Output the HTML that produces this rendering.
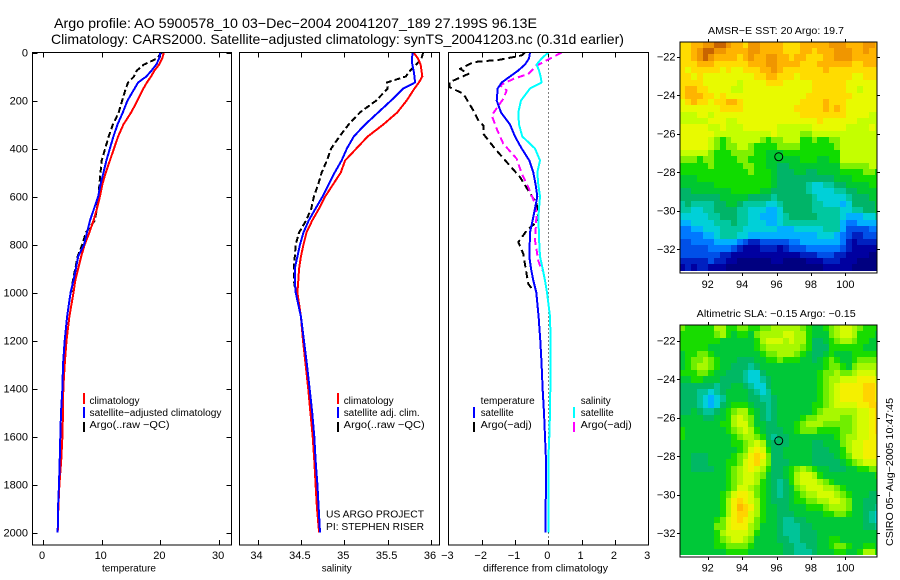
<!DOCTYPE html>
<html lang="en">
<head>
<meta charset="utf-8">
<title>Argo profile 5900578_10</title>
<style>
html,body{margin:0;padding:0;background:#fff;}
svg{display:block;}
text{font-family:"Liberation Sans",Arial,sans-serif;fill:#000;}
.lg{font-size:10px;}
.ttl{font-size:14px;}
</style>
</head>
<body>
<svg id="chart" xmlns="http://www.w3.org/2000/svg" width="900" height="580" viewBox="0 0 900 580">
  <rect x="0" y="0" width="900" height="580" fill="#fff"/>
  <defs>
    <clipPath id="clip-sst"><rect x="680" y="42" width="197" height="231"/></clipPath>
    <clipPath id="clip-sla"><rect x="680" y="325" width="197" height="232"/></clipPath>
    <clipPath id="clip-temp"><rect x="32" y="52" width="200" height="493"/></clipPath>
    <clipPath id="clip-sal"><rect x="239" y="52" width="201" height="493"/></clipPath>
    <clipPath id="clip-diff"><rect x="448" y="52" width="201" height="493"/></clipPath>
  </defs>

  <text class="ttl" x="54" y="28" textLength="483" lengthAdjust="spacingAndGlyphs">Argo profile: AO 5900578_10 03−Dec−2004 20041207_189 27.199S 96.13E</text>
  <text class="ttl" x="51" y="44" textLength="573" lengthAdjust="spacingAndGlyphs">Climatology: CARS2000. Satellite−adjusted climatology: synTS_20041203.nc (0.31d earlier)</text>

  <g id="layer-maps"></g>
  <g id="layer-lines"></g>

  <g>
    <rect x="83" y="393" width="2" height="11" fill="#f00"/>
    <rect x="83" y="407" width="2" height="11" fill="#00f"/>
    <rect x="83" y="422" width="2" height="10" fill="#000"/>
    <text class="lg" x="89.5" y="404" textLength="50" lengthAdjust="spacingAndGlyphs">climatology</text>
    <text class="lg" x="89.5" y="416" textLength="132" lengthAdjust="spacingAndGlyphs">satellite−adjusted climatology</text>
    <text class="lg" x="89.5" y="428" textLength="80" lengthAdjust="spacingAndGlyphs">Argo(..raw −QC)</text>
  </g>
  <g>
    <rect x="337" y="393" width="2" height="11" fill="#f00"/>
    <rect x="337" y="407" width="2" height="11" fill="#00f"/>
    <rect x="337" y="422" width="2" height="10" fill="#000"/>
    <text class="lg" x="343.7" y="404" textLength="50" lengthAdjust="spacingAndGlyphs">climatology</text>
    <text class="lg" x="343.7" y="416" textLength="76" lengthAdjust="spacingAndGlyphs">satellite adj. clim.</text>
    <text class="lg" x="343.7" y="428" textLength="81" lengthAdjust="spacingAndGlyphs">Argo(..raw −QC)</text>
    <text class="lg" x="326" y="517.5" textLength="98" lengthAdjust="spacingAndGlyphs">US ARGO PROJECT</text>
    <text class="lg" x="326" y="530" textLength="98" lengthAdjust="spacingAndGlyphs">PI: STEPHEN RISER</text>
  </g>
  <g>
    <text class="lg" x="480.7" y="404" textLength="54" lengthAdjust="spacingAndGlyphs">temperature</text>
    <rect x="473" y="407" width="2" height="11" fill="#00f"/>
    <rect x="473" y="422" width="2" height="10" fill="#000"/>
    <text class="lg" x="480.7" y="416" textLength="33" lengthAdjust="spacingAndGlyphs">satellite</text>
    <text class="lg" x="480.7" y="428" textLength="51" lengthAdjust="spacingAndGlyphs">Argo(−adj)</text>
    <text class="lg" x="580.7" y="404" textLength="30" lengthAdjust="spacingAndGlyphs">salinity</text>
    <rect x="573" y="407" width="2" height="11" fill="#0ff"/>
    <rect x="573" y="422" width="2" height="10" fill="#f0f"/>
    <text class="lg" x="580.7" y="416" textLength="33" lengthAdjust="spacingAndGlyphs">satellite</text>
    <text class="lg" x="580.7" y="428" textLength="51" lengthAdjust="spacingAndGlyphs">Argo(−adj)</text>
  </g>

  <text class="lg" x="708" y="34" textLength="136" lengthAdjust="spacingAndGlyphs">AMSR−E SST: 20 Argo: 19.7</text>
  <text class="lg" x="696.7" y="317" textLength="159" lengthAdjust="spacingAndGlyphs">Altimetric SLA: −0.15 Argo: −0.15</text>
  <text class="lg" transform="translate(893,546) rotate(-90)" x="0" y="0" textLength="148" lengthAdjust="spacingAndGlyphs">CSIRO 05−Aug−2005 10:47:45</text>
</svg>

<script>
/* ---------- profile data ---------- */
const depths = [0,25,50,75,100,125,150,200,250,300,350,400,450,500,550,600,650,700,750,800,850,900,950,1000,1100,1200,1300,1400,1500,1600,1700,1800,1900,2000];

const tempClim = [20.6,20.3,19.8,19.0,18.4,17.7,17.1,16.1,15.0,13.7,12.8,12.1,11.4,10.7,10.1,9.7,9.2,8.6,7.9,7.1,6.5,6.0,5.5,5.2,4.5,4.0,3.7,3.45,3.4,3.3,3.1,2.8,2.6,2.5];
const tempSat = [20.0,19.8,19.3,18.5,17.6,16.2,15.6,14.4,13.6,12.7,12.0,11.4,10.8,10.3,9.8,9.4,8.7,8.0,7.5,7.0,6.0,5.6,5.2,4.7,4.1,3.7,3.4,3.3,3.07,2.95,2.84,2.73,2.55,2.5];
const tempArgo = [20.2,19.4,17.2,16.0,15.5,14.5,14.1,13.5,12.9,11.9,11.2,10.6,10.0,9.8,9.6,9.45,9.2,8.8,7.3,6.7,5.9,5.5,5.1,4.8];

const salClim = [35.80,35.85,35.88,35.89,35.90,35.86,35.81,35.72,35.61,35.45,35.27,35.14,35.01,34.96,34.87,34.78,34.71,34.63,34.565,34.53,34.50,34.48,34.47,34.46,34.50,34.525,34.555,34.585,34.61,34.636,34.655,34.67,34.686,34.71];
const salSat = [35.79,35.78,35.785,35.80,35.81,35.815,35.68,35.54,35.39,35.24,35.11,35.03,34.97,34.89,34.82,34.75,34.67,34.59,34.53,34.49,34.46,34.43,34.43,34.44,34.50,34.535,34.57,34.60,34.63,34.655,34.67,34.69,34.705,34.72];
const salArgo = [35.91,35.89,35.83,35.76,35.71,35.49,35.50,35.37,35.18,35.05,34.945,34.85,34.80,34.74,34.70,34.65,34.62,34.56,34.48,34.44,34.43,34.42,34.42,34.44];

const diffTempSat = [-0.55,-0.58,-0.7,-0.9,-1.15,-1.4,-1.52,-1.55,-1.42,-1.15,-1.0,-0.8,-0.57,-0.45,-0.38,-0.33,-0.4,-0.47,-0.55,-0.56,-0.57,-0.52,-0.45,-0.36,-0.29,-0.24,-0.2,-0.17,-0.13,-0.1,-0.07,-0.07,-0.08,-0.08];
const diffSalSat = [0.0,-0.2,-0.35,-0.28,-0.23,-0.2,-0.55,-0.82,-0.9,-0.88,-0.78,-0.4,-0.25,-0.33,-0.3,-0.25,-0.28,-0.3,-0.28,-0.27,-0.25,-0.17,-0.1,-0.04,0.05,0.07,0.07,0.06,0.05,0.03,0.0,0.0,0.0,0.0];

const diffTempArgoDepths = [0,12,30,40,68,89,124,144,172,242,283,304,339,401,464,519,575,630,700,742,790,839,908,964,992];
const diffTempArgo = [-0.7,-0.8,-1.45,-2.25,-2.65,-2.4,-2.97,-2.97,-2.55,-2.25,-2.1,-1.95,-1.95,-1.6,-1.2,-0.85,-0.6,-0.35,-0.3,-0.65,-0.9,-0.75,-0.67,-0.6,-0.45];

const diffSalArgoDepths = [0,26,54,89,110,137,158,193,262,325,380,443,505,561,630,672,783,867,908];
const diffSalArgo = [0.4,0.05,-0.35,-0.6,-1.05,-1.45,-1.25,-1.35,-1.7,-1.53,-1.35,-0.95,-0.8,-0.6,-0.4,-0.35,-0.4,-0.3,-0.2];

/* ---------- tick labels ---------- */
const depthTicks = [0,200,400,600,800,1000,1200,1400,1600,1800,2000];
const tempTicks = [0,10,20,30];
const salTicks = [34,34.5,35,35.5,36];
const diffTicks = [-3,-2,-1,0,1,2,3];
const lonTicks = [92,94,96,98,100];
const latTicks = [-22,-24,-26,-28,-30,-32];
const floatLon = [96.13];
const floatLat = [-27.199];

/* ---------- map levels (rows north to south, columns west to east) ---------- */
const sstLevels = [
[14,14,15,15,16,16,17,17,16,15,15,14,16,16,15,15,15,15,14,14,14,15,15,15,15,15,16,16,16,15,15,15,16,16,15],
[14,14,15,16,17,17,16,16,15,15,15,15,16,16,15,15,15,15,14,14,14,15,15,14,15,15,15,16,16,16,15,15,16,15,15],
[14,14,15,16,17,16,15,15,15,15,14,15,16,15,15,16,16,15,15,14,15,15,14,14,14,15,15,16,16,16,15,15,15,15,15],
[14,14,14,15,15,15,14,14,14,14,14,14,15,15,15,16,16,15,15,15,15,14,14,14,15,15,15,15,15,15,14,14,15,15,15],
[14,13,14,14,14,14,14,13,14,13,13,14,14,14,15,15,16,15,14,14,14,14,14,14,14,15,14,14,14,14,14,14,14,14,14],
[14,14,13,14,13,13,13,13,13,13,13,13,13,14,14,15,15,14,14,14,13,14,14,14,14,14,14,14,14,14,13,13,14,14,14],
[14,14,14,14,13,13,13,13,13,13,12,13,13,13,13,14,14,14,13,13,13,13,13,14,14,14,14,14,14,13,13,13,13,13,13],
[14,15,15,14,14,13,13,13,13,12,12,13,13,13,13,13,13,13,13,13,13,13,13,14,14,14,14,14,14,13,13,12,13,13,13],
[14,15,15,15,14,14,13,14,13,13,13,13,13,13,13,13,13,13,13,13,13,13,14,14,14,14,14,14,14,14,13,13,13,13,13],
[13,14,15,14,14,13,14,14,15,15,14,13,13,13,13,13,13,13,13,13,13,14,14,14,14,15,14,14,14,13,13,13,13,13,13],
[13,13,13,13,13,13,13,14,14,14,14,13,13,13,13,13,13,13,13,13,14,14,14,14,14,15,14,15,14,13,13,13,13,13,13],
[12,12,12,13,13,12,13,13,13,13,13,13,13,13,13,13,13,13,13,13,13,14,14,14,14,14,14,14,14,13,13,13,13,12,12],
[12,12,12,12,12,13,13,13,12,12,13,13,13,13,13,13,13,13,13,13,13,13,13,13,14,13,13,13,13,13,13,12,12,12,12],
[13,13,13,13,13,12,12,13,12,12,12,13,13,13,13,13,13,12,12,12,12,12,12,13,13,13,13,13,13,12,12,12,12,13,12],
[13,13,13,13,13,13,12,12,12,12,12,12,12,12,12,12,13,12,12,12,12,11,11,12,12,12,12,12,12,12,12,12,12,12,12],
[13,13,13,13,13,12,11,10,11,12,12,12,12,12,11,10,11,11,12,12,12,10,10,11,10,10,11,11,12,12,12,12,12,12,12],
[13,13,13,13,13,12,11,10,11,11,12,12,11,10,10,10,10,11,11,11,11,10,10,10,10,10,10,11,12,12,12,12,12,12,12],
[12,12,12,12,12,11,10,10,10,11,11,11,11,10,10,9,9,9,10,10,10,10,10,10,10,10,10,10,12,12,12,12,12,12,12],
[11,11,11,10,11,11,10,10,10,10,11,11,10,10,10,9,9,9,9,9,9,10,10,10,9,9,10,10,12,12,12,12,12,12,12],
[10,10,10,10,10,11,10,10,10,10,10,11,11,10,10,9,9,8,8,9,9,9,9,9,9,9,9,9,11,11,11,11,11,12,12],
[10,10,10,10,10,10,10,10,10,10,10,10,11,10,10,10,9,8,8,8,9,9,8,8,9,9,9,9,10,10,10,10,11,11,10],
[9,9,9,10,10,10,10,10,10,10,10,10,10,10,10,10,9,8,8,8,8,8,8,8,8,8,8,9,9,9,10,10,10,10,10],
[9,9,9,9,9,9,10,10,10,10,10,10,10,10,10,10,9,8,8,8,8,8,7,6,6,7,7,8,8,9,9,9,9,10,10],
[8,8,9,9,9,9,9,9,9,10,10,10,10,10,9,9,8,8,8,8,8,8,7,6,6,6,6,7,7,8,8,9,9,9,9],
[8,8,8,8,8,8,8,9,9,9,9,9,8,8,8,8,7,8,8,8,8,8,8,7,6,6,6,6,6,7,8,8,8,9,9],
[7,8,7,7,7,7,8,8,9,9,8,7,7,7,7,6,6,7,8,8,8,8,8,7,7,6,6,6,5,6,8,8,8,8,9],
[7,7,6,6,7,7,8,8,8,8,7,7,6,6,6,5,5,6,8,8,8,8,8,7,7,7,7,7,6,6,7,7,8,8,9],
[6,6,6,6,6,7,7,8,8,8,7,7,6,6,5,5,5,6,7,8,8,8,8,8,7,7,7,7,6,5,5,5,6,6,7],
[5,5,6,6,6,6,7,7,7,8,7,7,6,6,6,5,5,6,7,7,7,7,7,7,7,7,7,7,5,4,4,5,5,5,5],
[4,4,5,5,6,6,6,7,7,7,7,6,6,6,6,6,6,5,5,5,6,6,6,6,6,7,7,7,5,3,3,3,3,4,4],
[4,4,4,4,5,5,6,7,7,7,6,6,5,5,5,5,5,5,5,5,5,5,5,5,6,6,6,5,4,3,2,2,3,3,3],
[3,3,4,4,4,4,5,5,5,5,4,3,2,2,3,3,3,3,3,4,4,5,5,5,5,5,5,5,4,2,1,2,2,2,2],
[3,3,3,3,3,4,4,4,4,3,2,1,1,1,2,2,2,1,2,3,3,3,4,4,4,4,4,4,3,2,1,1,1,1,1],
[3,3,3,3,3,3,3,2,2,1,1,1,1,1,1,1,1,1,1,1,1,2,2,2,3,3,3,2,2,1,1,1,1,0,0],
[2,2,2,2,2,3,2,2,1,1,0,0,0,0,0,0,1,1,0,0,0,0,1,1,1,2,2,2,1,1,1,0,0,0,0],
[1,2,1,2,2,1,1,1,0,0,0,0,0,0,0,0,0,0,0,0,0,0,0,0,0,1,1,1,1,1,0,0,0,0,0]
];

const slaLevels = [
[11,10,10,10,10,10,12,12,10,10,11,11,10,10,11,11,12,12,12,12,12,11,10,9,9,10,11,12,13,13,12,11,10,10,10],
[10,10,10,10,10,10,11,12,10,9,10,10,9,11,12,12,12,12,13,13,12,12,10,9,9,9,11,12,13,13,12,10,10,10,9],
[10,10,10,10,10,10,10,9,9,9,9,9,9,10,12,13,13,13,12,13,12,12,10,8,8,9,10,11,12,12,11,10,10,9,9],
[10,10,10,10,10,9,9,9,9,9,9,9,9,10,11,12,12,12,12,12,12,11,10,8,8,8,10,10,10,10,10,10,9,9,9],
[9,10,10,11,11,10,9,9,9,9,9,9,9,9,10,11,11,12,12,12,11,10,9,8,8,9,10,9,9,9,10,10,10,10,10],
[9,10,11,11,12,11,10,9,9,9,8,8,8,9,9,10,10,11,10,10,10,9,9,8,9,10,11,10,9,9,10,11,11,11,11],
[9,10,11,12,12,11,10,9,9,8,8,8,7,8,9,9,9,9,9,9,9,9,9,9,9,10,11,11,10,9,11,12,12,12,12],
[10,10,10,11,11,10,9,9,8,8,8,7,6,6,8,9,9,9,9,9,9,9,9,9,10,11,11,12,11,11,12,13,13,13,12],
[9,9,10,10,9,9,9,8,8,8,8,7,6,6,7,8,9,9,9,9,9,9,9,9,10,11,12,12,13,13,13,14,14,14,13],
[8,8,8,8,8,8,7,8,8,9,9,8,7,6,6,8,9,9,9,9,9,9,9,9,10,11,12,13,14,14,14,14,15,15,14],
[8,8,8,7,7,6,7,8,9,9,9,9,8,7,6,7,9,9,9,9,9,9,9,9,10,11,12,13,14,14,14,14,15,15,14],
[8,8,8,7,6,5,6,7,9,9,9,9,8,8,7,7,8,9,9,9,9,9,9,9,10,11,12,13,14,14,14,14,15,15,14],
[8,8,8,7,6,5,6,8,9,10,10,10,9,8,8,7,8,9,9,9,9,9,9,10,10,11,12,13,13,13,13,14,14,15,15],
[8,8,9,8,7,7,8,9,10,11,12,12,10,9,8,7,8,9,9,9,9,9,9,10,11,12,12,12,12,12,12,13,13,14,15],
[9,9,9,9,8,8,9,9,10,12,13,12,11,9,8,7,8,9,9,9,9,10,11,11,12,12,12,12,11,11,12,13,13,14,15],
[9,9,9,9,9,9,9,10,10,12,13,13,11,9,9,8,8,9,9,9,10,11,12,12,12,11,11,11,11,11,12,13,13,14,15],
[10,9,9,9,9,9,9,9,10,11,12,13,12,10,9,8,8,8,9,9,10,11,11,11,10,10,10,10,11,11,12,13,13,14,15],
[10,9,9,9,9,9,9,9,9,10,11,12,12,11,10,8,7,8,8,9,9,9,9,9,9,9,9,10,11,12,12,13,13,14,14],
[9,9,9,9,9,9,9,9,9,10,10,11,12,13,12,9,8,8,8,9,9,9,9,8,8,9,9,9,11,12,13,13,14,14,14],
[9,9,9,9,9,9,9,9,9,9,10,11,13,14,13,10,8,8,9,9,9,9,9,8,8,8,9,9,10,12,13,13,14,14,14],
[9,9,8,8,8,9,9,9,9,10,11,12,14,15,14,11,8,8,9,9,9,9,9,8,8,8,8,9,10,11,13,13,14,14,14],
[9,9,8,8,8,9,9,9,10,10,11,13,14,15,13,11,8,8,8,9,9,9,9,8,8,8,8,8,9,10,11,12,13,13,13],
[9,9,8,8,8,8,9,9,10,11,12,13,14,13,12,10,8,8,9,10,11,12,11,10,9,9,8,8,8,9,9,10,10,11,11],
[9,9,9,9,9,9,9,9,10,11,12,13,13,12,11,9,8,8,9,10,12,13,13,12,10,9,9,9,9,9,9,9,9,9,10],
[9,9,9,9,9,9,9,9,10,11,12,13,13,12,10,9,8,7,8,10,12,13,13,13,12,11,10,9,9,9,9,9,9,9,9],
[9,9,9,9,9,9,9,9,10,11,13,13,12,11,10,9,8,7,8,9,11,12,13,13,13,12,12,11,10,9,9,9,9,9,9],
[9,9,9,9,9,9,9,10,11,13,14,14,13,11,10,9,8,7,8,9,10,11,12,12,13,13,13,12,11,10,9,9,9,8,8],
[9,9,9,9,9,9,9,10,12,14,15,14,13,12,10,9,8,8,8,9,10,10,11,11,12,12,13,13,12,11,9,9,8,8,8],
[9,9,9,9,9,9,9,10,12,14,16,15,14,12,10,9,9,8,8,9,9,9,10,10,10,11,12,12,12,11,9,9,8,8,7],
[9,9,9,9,9,9,9,10,12,14,15,15,13,12,10,9,9,8,8,8,9,9,9,9,9,10,10,11,11,10,9,9,8,7,6],
[9,9,9,9,9,9,10,11,13,14,15,14,13,11,10,9,9,8,7,7,8,8,9,9,9,9,9,9,9,9,9,9,8,7,6],
[9,9,9,9,9,9,11,11,13,14,14,14,12,11,9,9,9,8,7,7,7,8,8,9,9,9,9,9,9,9,9,9,8,8,7],
[9,9,9,9,9,9,10,12,13,13,13,13,12,10,9,9,9,8,7,7,7,8,8,8,9,9,9,9,9,9,9,9,9,9,9],
[9,9,9,9,9,9,10,11,12,13,13,12,11,9,9,9,9,8,8,7,7,8,8,8,9,9,10,10,9,9,9,9,9,9,9],
[9,9,9,9,9,9,10,10,11,11,11,11,10,9,9,9,9,9,8,8,7,7,8,8,9,9,10,11,11,10,9,9,10,10,9],
[9,9,9,9,9,9,9,9,10,10,10,10,9,9,9,9,9,9,8,8,7,7,7,8,9,9,9,10,10,9,9,10,12,12,10]
];

/* ---------- colour ramps for map levels ---------- */
const sstRamp = ['#000080','#0000a0','#0020c0','#0050e8','#0078ff','#00b0ff','#00d0d8','#00c8a0','#00b468','#00c830','#10dc00','#80f000','#c4ff00','#e8fa00','#ffdc00','#ffb400','#f09600','#c86400'];
const slaRamp = ['#000080','#0000a0','#0020c0','#0050e8','#0078ff','#00b0ff','#00d0d8','#00c498','#00b864','#00c838','#18dc00','#70ee00','#a8f800','#d4fc00','#f4f000','#ffd400','#ffb800','#f09600'];

/* ---------- axis functions ---------- */
const SVGNS = 'http://www.w3.org/2000/svg';
const yDepth = d => 52.5 + d * 0.24;
const xTemp = v => 43 + v * 5.87;
const xSal = v => 257.5 + (v - 34) * 86.75;
const xDiff = v => 548.3 + v * 33.3;
const xLon = v => 707.7 + (v - 92) * 17.2;
const ySst = v => 56.7 + (-22 - v) * 19.25;
const ySla = v => 340.7 + (-22 - v) * 19.25;

const lines = document.getElementById('layer-lines');
const maps = document.getElementById('layer-maps');

function make(tag, parent, attrs) {
  const el = document.createElementNS(SVGNS, tag);
  for (const k in attrs) el.setAttribute(k, attrs[k]);
  parent.appendChild(el);
  return el;
}

function label(parent, x, y, str, anchor, name, size) {
  const el = make('text', parent, {x: x, y: y, 'text-anchor': anchor, 'font-size': size || 11});
  el.textContent = str;
  
  
  return el;
}

function series(parent, xs, ds, xFn, color, dash, name, clip) {
  const pts = [];
  for (let i = 0; i < xs.length; i++) {
    pts.push(xFn(xs[i]).toFixed(1) + ',' + yDepth(ds[i]).toFixed(1));
  }
  const attrs = {points: pts.join(' '), fill: 'none', stroke: color, 'stroke-width': 2, 'clip-path': 'url(#' + clip + ')', 'shape-rendering': 'crispEdges', 'stroke-linejoin': 'round'};
  if (dash) attrs['stroke-dasharray'] = dash;
  const el = make('polyline', parent, attrs);
  
  
}

function frame(parent, x0, x1, y0, y1, name) {
  const el = make('rect', parent, {x: x0, y: y0, width: x1 - x0, height: y1 - y0, fill: 'none', stroke: '#000', 'stroke-width': 1, 'shape-rendering': 'crispEdges'});
  
  
}

function tick(parent, x1, y1, x2, y2, name) {
  const el = make('line', parent, {x1: x1, y1: y1, x2: x2, y2: y2, stroke: '#000', 'stroke-width': 1, 'shape-rendering': 'crispEdges'});
  
  
}

function fmt(v) {
  return String(v).replace('-', '−');
}

/* ---------- profile panels ---------- */
const panelTop = 52.5;
const panelBottom = 545;

function panel(x0, x1, xFn, ticks, axisName, axisTitle, titleX, titleLen, clip) {
  const g = make('g', lines, {});
  
  
  for (const v of ticks) {
    const px = Math.round(xFn(v)) + 0.5;
    tick(g, px, panelTop, px, panelTop + 5, axisName + '-top-tick');
    tick(g, px, panelBottom, px, panelBottom - 5, axisName + '-bottom-tick');
    label(g, xFn(v) - 1, 559, fmt(v), 'middle', axisName + '-tick-label');
  }
  const t = label(g, titleX, 571.5, axisTitle, 'start', axisName + '-axis-title', 10);
  t.setAttribute('textLength', titleLen);
  t.setAttribute('lengthAdjust', 'spacingAndGlyphs');
  return g;
}

const gTemp = panel(32.5, 231.5, xTemp, tempTicks, 'temperature', 'temperature', 102, 54, 'clip-temp');
for (const d of depthTicks) {
  const py = Math.round(yDepth(d)) + 0.5;
  tick(gTemp, 32.5, py, 37.5, py, 'depth-tick-left');
  tick(gTemp, 231.5, py, 226.5, py, 'depth-tick-right');
  label(gTemp, 28, yDepth(d) + 4, String(d), 'end', 'depth-tick-label');
}
series(gTemp, tempArgo, depths, xTemp, '#000', '6 3', 'temperature-argo-line', 'clip-temp');
series(gTemp, tempClim, depths, xTemp, '#f00', '', 'temperature-climatology-line', 'clip-temp');
series(gTemp, tempSat, depths, xTemp, '#00f', '', 'temperature-satellite-line', 'clip-temp');
frame(gTemp, 32.5, 231.5, panelTop, panelBottom, 'temperature-axes-frame');

const gSal = panel(239.5, 439.5, xSal, salTicks, 'salinity', 'salinity', 321.7, 30, 'clip-sal');
series(gSal, salArgo, depths, xSal, '#000', '6 3', 'salinity-argo-line', 'clip-sal');
series(gSal, salClim, depths, xSal, '#f00', '', 'salinity-climatology-line', 'clip-sal');
series(gSal, salSat, depths, xSal, '#00f', '', 'salinity-satellite-line', 'clip-sal');
frame(gSal, 239.5, 439.5, panelTop, panelBottom, 'salinity-axes-frame');

const gDiff = panel(448.5, 648.5, xDiff, diffTicks, 'difference', 'difference from climatology', 483, 125, 'clip-diff');
const zero = make('line', gDiff, {x1: 548.5, y1: panelTop, x2: 548.5, y2: panelBottom, stroke: '#000', 'stroke-width': 1, 'stroke-dasharray': '1 3', 'shape-rendering': 'crispEdges'});


series(gDiff, diffTempArgo, diffTempArgoDepths, xDiff, '#000', '7 4', 'difference-temperature-argo-line', 'clip-diff');
series(gDiff, diffSalArgo, diffSalArgoDepths, xDiff, '#f0f', '7 4', 'difference-salinity-argo-line', 'clip-diff');
series(gDiff, diffTempSat, depths, xDiff, '#00f', '', 'difference-temperature-satellite-line', 'clip-diff');
series(gDiff, diffSalSat, depths, xDiff, '#0ff', '', 'difference-salinity-satellite-line', 'clip-diff');
frame(gDiff, 448.5, 648.5, panelTop, panelBottom, 'difference-axes-frame');

/* ---------- map panels ---------- */
function mapPanel(levels, ramp, yFn, top, bottom, latStart, latStep, name, clip, labelY) {
  const g = make('g', maps, {});
  
  
  const cells = make('g', g, {'clip-path': 'url(#' + clip + ')', 'shape-rendering': 'crispEdges'});
  const lonStart = 90.37;
  const lonStep = 1 / 3;
  for (let r = 0; r < levels.length; r++) {
    const y0 = Math.round(yFn(latStart - r * latStep));
    const y1 = Math.round(yFn(latStart - (r + 1) * latStep));
    for (let c = 0; c < levels[r].length; c++) {
      const x0 = Math.round(xLon(lonStart + c * lonStep));
      const x1 = Math.round(xLon(lonStart + (c + 1) * lonStep));
      const cell = make('rect', cells, {x: x0, y: y0, width: x1 - x0, height: y1 - y0, fill: ramp[levels[r][c]]});
      
      
    }
  }
  for (const v of lonTicks) {
    const px = Math.round(xLon(v)) + 0.5;
    tick(g, px, top, px, top - 3, name + '-lon-tick-top');
    tick(g, px, bottom, px, bottom + 3, name + '-lon-tick-bottom');
    label(g, xLon(v), labelY, String(v), 'middle', name + '-lon-label');
  }
  for (const v of latTicks) {
    const py = Math.round(yFn(v)) + 0.5;
    tick(g, 680, py, 677, py, name + '-lat-tick-left');
    tick(g, 877, py, 880, py, name + '-lat-tick-right');
    label(g, 675.5, yFn(v) + 4, fmt(v), 'end', name + '-lat-label');
  }
  frame(g, 680, 877, top, bottom, name + '-map-frame');
  for (let i = 0; i < floatLon.length; i++) {
    const m = make('circle', g, {cx: xLon(floatLon[i]), cy: yFn(floatLat[i]), r: 4, fill: 'none', stroke: '#000', 'stroke-width': 1});
    
    
  }
}

mapPanel(sstLevels, sstRamp, ySst, 42, 273, -21.22, 0.3304, 'sst', 'clip-sst', 288);
mapPanel(slaLevels, slaRamp, ySla, 325, 557, -21.18, 0.3325, 'sla', 'clip-sla', 571.5);
</script>
</body>
</html>
